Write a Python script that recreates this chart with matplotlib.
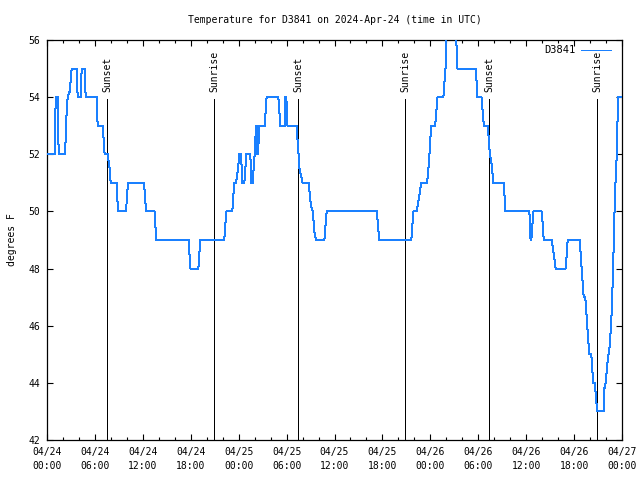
import matplotlib
matplotlib.use("Agg")
import matplotlib.pyplot as plt
from matplotlib.ticker import MultipleLocator
import matplotlib.transforms as mtransforms

# hours since 2024-04-24 00:00 UTC
hours = [0.00, 0.96, 1.09, 1.34, 1.46, 2.21, 2.34, 2.46, 2.59, 2.84, 3.09, 3.72, 3.84,
         4.22, 4.34, 4.72, 4.84, 6.22, 6.34, 6.97, 7.22, 7.60, 7.85, 7.97, 8.72, 8.89,
         9.89, 10.14, 12.15, 12.40, 13.46, 13.69, 17.74, 17.95, 18.95, 19.20, 22.20,
         22.45, 23.20, 23.45, 23.67, 23.92, 24.08, 24.30, 24.46, 24.71, 24.96, 25.46,
         25.59, 25.75, 26.00, 26.17, 26.25, 26.34, 26.42, 26.59, 27.26, 27.50, 28.97,
         29.22, 29.76, 29.85, 29.97, 30.10, 31.25, 31.50, 31.62, 32.00, 32.76, 33.05,
         33.27, 33.52, 33.68, 34.73, 35.02, 41.30, 41.60, 45.62, 45.87, 46.30, 46.87,
         47.60, 47.85, 48.10, 48.60, 48.90, 49.63, 49.90, 50.10, 51.10, 51.40, 53.70,
         53.90, 54.40, 54.70, 55.20, 55.45, 55.65, 55.90, 57.20, 57.40, 60.40, 60.55,
         60.65, 60.90, 61.96, 62.20, 63.20, 63.70, 64.95, 65.20, 66.70, 67.20, 67.40,
         67.90, 68.15, 68.40, 68.60, 68.80, 68.90, 69.70, 69.75, 69.96, 70.20, 70.46,
         70.58, 70.71, 70.83, 70.96, 71.09, 71.20, 71.35, 71.50, 72.00]
temps = [52, 52, 54, 54, 52, 52, 52.5, 53.5, 54, 54.2, 55, 55, 54,
         54, 55, 55, 54, 54, 53, 53, 52, 52, 51.5, 51, 51, 50,
         50, 51, 51, 50, 50, 49, 49, 48, 48, 49, 49,
         50, 50, 51, 51, 51.5, 52, 52, 51, 51, 52, 52,
         51, 51, 52, 53, 52, 53, 52, 53, 53, 54, 54,
         53, 53, 54, 54, 53, 53, 52, 51.5, 51, 51, 50.2,
         50, 49.2, 49, 49, 50, 50, 49, 49, 50, 50, 51,
         51, 51.8, 53, 53, 54, 54, 55, 57, 57, 55, 55,
         54, 54, 53, 53, 52, 51.7, 51, 51, 50, 50, 49,
         49, 50, 50, 49, 49, 48, 48, 49, 49, 47, 47,
         45, 45, 44, 44, 43.3, 43, 43, 43.75, 44, 44.75, 45.3,
         45.8, 46.5, 47.5, 48.8, 50.3, 51.1, 52, 54, 54]

sun_hours = [7.55, 20.91, 31.47, 44.87, 55.39, 68.91]
sun_labels = ["Sunset", "Sunrise", "Sunset", "Sunrise", "Sunset", "Sunrise"]

tick_hours = list(range(0, 73, 6))
tick_labels = ["04/24\n00:00", "04/24\n06:00", "04/24\n12:00", "04/24\n18:00",
               "04/25\n00:00", "04/25\n06:00", "04/25\n12:00", "04/25\n18:00",
               "04/26\n00:00", "04/26\n06:00", "04/26\n12:00", "04/26\n18:00",
               "04/27\n00:00"]

plt.rcParams["font.family"] = "DejaVu Sans Mono"
plt.rcParams["font.size"] = 7

fig = plt.figure(figsize=(6.4, 4.8), dpi=100)
ax = fig.add_axes([47 / 640, 40 / 480, 575 / 640, 400 / 480])

ax.plot(hours, temps, color="#1a80ff", lw=0.72, label="D3841", zorder=3,
        antialiased=False)

trans = mtransforms.blended_transform_factory(ax.transData, ax.transAxes)
for h, lab in zip(sun_hours, sun_labels):
    ax.plot([h, h], [0, 0.8525], color="black", lw=0.72, transform=trans, zorder=2,
            antialiased=False)
    ax.text(h, 0.87, lab, rotation=90, ha="center", va="bottom", transform=trans,
            fontsize=7)

ax.set_xlim(0, 72)
ax.set_ylim(42, 56)
ax.set_xticks(tick_hours)
ax.set_xticklabels(tick_labels)
for lbl in ax.get_xticklabels():
    lbl.set_linespacing(1.5)
ax.xaxis.set_minor_locator(MultipleLocator(2))
ax.set_yticks(range(42, 57, 2))
ax.tick_params(which="major", direction="in", length=4, width=0.8,
               top=True, right=True, pad=5)
ax.tick_params(which="minor", direction="in", length=2, width=0.8,
               top=True, right=True)
for s in ax.spines.values():
    s.set_linewidth(0.9)

ax.legend(loc="upper right", bbox_to_anchor=(0.99, 1.0), frameon=False,
          markerfirst=False, handlelength=2.9, handletextpad=0.5,
          borderaxespad=0, borderpad=0.5, fontsize=7.5)

fig.text(334.5 / 640, 1 - 20 / 480, "Temperature for D3841 on 2024-Apr-24 (time in UTC)",
         ha="center", va="center", fontsize=7)
fig.text(12 / 640, 0.5, "degrees F", rotation=90, ha="center", va="center", fontsize=7)

fig.savefig("out.png", dpi=100)
